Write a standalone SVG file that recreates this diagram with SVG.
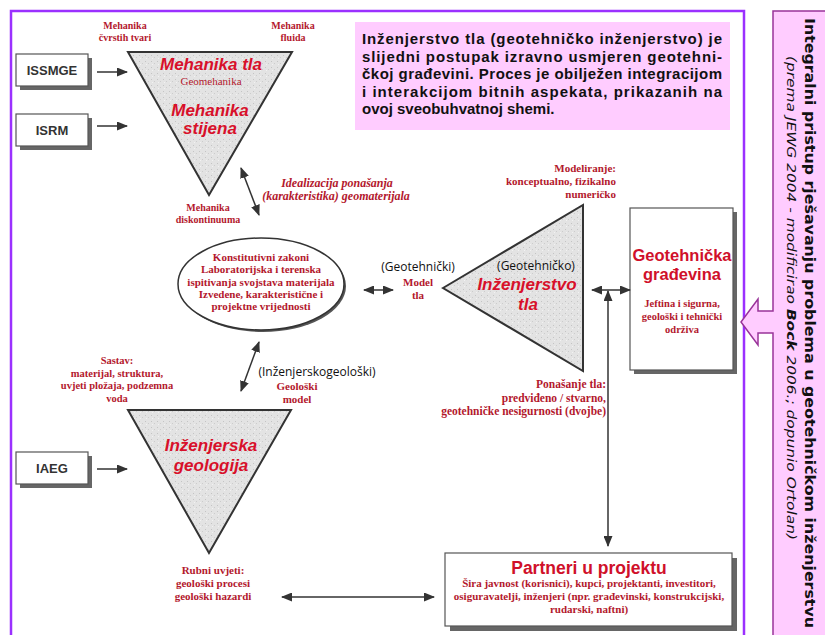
<svg xmlns="http://www.w3.org/2000/svg" width="825" height="635" viewBox="0 0 825 635">
<style>
.rs{font-family:"Liberation Serif",serif;font-weight:bold;fill:#b3182d;text-anchor:middle}
.rsi{font-family:"Liberation Serif",serif;font-weight:bold;font-style:italic;fill:#b3182d;text-anchor:middle;font-size:12px}
.big{font-family:"Liberation Sans",Arial,sans-serif;font-weight:bold;font-style:italic;fill:#d8102a;text-anchor:middle;font-size:17px}
.bigb{font-family:"Liberation Sans",Arial,sans-serif;font-weight:bold;fill:#d0102a;text-anchor:middle}
.blk{font-family:"Open Sans",sans-serif;fill:#111;text-anchor:middle;font-size:12px}
.org{font-family:"Liberation Sans",Arial,sans-serif;font-weight:bold;fill:#333;text-anchor:middle;font-size:13px}
.box{fill:#fff;stroke:#555;stroke-width:1.2}
.shd{fill:#666}
.tri{fill:url(#stip);stroke:#333;stroke-width:2}
.con{stroke:#333;stroke-width:1.5;fill:none}
.intro{font-family:"Liberation Sans",Arial,sans-serif;font-weight:bold;font-size:15px;fill:#111}
</style>
<defs>
<pattern id="stip" width="6" height="6" patternUnits="userSpaceOnUse">
<rect width="6" height="6" fill="#e3e3e3"/>
<rect x="1" y="1" width="1" height="1" fill="#c4c4c4"/>
<rect x="4" y="3" width="1" height="1" fill="#cccccc"/>
<rect x="2" y="4" width="1" height="1" fill="#f2f2f2"/>
</pattern>
<marker id="ah" markerWidth="11" markerHeight="9" refX="10" refY="4.5" orient="auto-start-reverse" markerUnits="userSpaceOnUse">
<path d="M0,0 L11,4.5 L0,9 Z" fill="#333"/>
</marker>
</defs>
<rect width="825" height="635" fill="#fff"/>

<!-- main frame -->
<rect x="11" y="11" width="733" height="640" fill="none" stroke="#9b30ff" stroke-width="2.5"/>

<!-- right side panel with arrow -->
<g id="side-panel">
<path d="M773,11 H830 V640 H773 V333 H758 V345 L741,322 L758,299 V311 H773 Z" fill="#ffccff" stroke="#993399" stroke-width="1.5"/>
<text transform="translate(805,18) rotate(90)" font-family="DejaVu Sans,sans-serif" font-size="14" font-weight="bold" fill="#111" textLength="610" lengthAdjust="spacingAndGlyphs">Integralni pristup rješavanju problema u geotehničkom inženjerstvu</text>
<text transform="translate(787,56) rotate(90)" font-family="DejaVu Sans,sans-serif" font-size="12" font-style="italic" fill="#111" textLength="484" lengthAdjust="spacingAndGlyphs">(prema JEWG 2004 - modificirao <tspan font-weight="bold">Bock</tspan> 2006.; dopunio Ortolan)</text>
</g>

<!-- intro text box -->
<g id="intro">
<rect x="355" y="22" width="375" height="108" fill="#ffccff"/>
<text class="intro" x="362" y="44" textLength="360">Inženjerstvo tla (geotehničko inženjerstvo) je</text>
<text class="intro" x="362" y="61.5" textLength="360">slijedni postupak izravno usmjeren  geotehni-</text>
<text class="intro" x="362" y="79" textLength="360">čkoj građevini. Proces je obilježen integracijom</text>
<text class="intro" x="362" y="96.5" textLength="360">i interakcijom bitnih aspekata, prikazanih na</text>
<text class="intro" x="362" y="114">ovoj sveobuhvatnoj shemi.</text>
</g>

<!-- organisation boxes -->
<g id="issmge">
<rect class="shd" x="20" y="58" width="72" height="32"/>
<rect class="box" x="16" y="54" width="72" height="32"/>
<text class="org" x="52" y="75">ISSMGE</text>
</g>
<g id="isrm">
<rect class="shd" x="20" y="118" width="72" height="32"/>
<rect class="box" x="16" y="114" width="72" height="32"/>
<text class="org" x="52" y="135">ISRM</text>
</g>
<g id="iaeg">
<rect class="shd" x="20" y="456" width="72" height="32"/>
<rect class="box" x="16" y="452" width="72" height="32"/>
<text class="org" x="52" y="473">IAEG</text>
</g>

<!-- top triangle -->
<g id="mehanika">
<polygon class="tri" points="128,52 292,52 209,195"/>
<text class="big" x="211" y="70">Mehanika tla</text>
<text class="rs" x="211" y="85" font-size="11" style="font-weight:normal">Geomehanika</text>
<text class="big" x="210" y="116">Mehanika</text>
<text class="big" x="210" y="134">stijena</text>
<text class="rs" x="125" y="29" font-size="10">Mehanika</text>
<text class="rs" x="125" y="41" font-size="10">čvrstih tvari</text>
<text class="rs" x="293" y="29" font-size="10">Mehanika</text>
<text class="rs" x="293" y="41" font-size="10">fluida</text>
<text class="rs" x="208" y="211" font-size="10">Mehanika</text>
<text class="rs" x="208" y="223" font-size="10">diskontinuuma</text>
</g>

<g id="idealizacija">
<text class="rsi" x="337" y="187">Idealizacija ponašanja</text>
<text class="rsi" x="336" y="200">(karakteristika) geomaterijala</text>
</g>

<!-- ellipse -->
<g id="konstitutivni">
<ellipse cx="263" cy="286" rx="83" ry="46" fill="#555"/>
<ellipse cx="261" cy="284" rx="83" ry="46" fill="#fff" stroke="#333" stroke-width="1.5"/>
<text class="rs" x="261" y="261" font-size="11">Konstitutivni zakoni</text>
<text class="rs" x="261" y="273" font-size="11">Laboratorijska i terenska</text>
<text class="rs" x="261" y="286" font-size="11">ispitivanja svojstava materijala</text>
<text class="rs" x="261" y="298" font-size="11">Izvedene, karakteristične i</text>
<text class="rs" x="261" y="310" font-size="11">projektne vrijednosti</text>
</g>

<g id="model-tla">
<text class="blk" x="418" y="271">(Geotehnički)</text>
<text class="rs" x="418" y="286" font-size="11">Model</text>
<text class="rs" x="418" y="299" font-size="11">tla</text>
</g>

<!-- middle triangle -->
<g id="inzenjerstvo-tla">
<polygon class="tri" points="443,288 583,205 583,371"/>
<text class="blk" x="536" y="270">(Geotehničko)</text>
<text class="big" x="527" y="290">Inženjerstvo</text>
<text class="big" x="528" y="310">tla</text>
</g>

<g id="modeliranje">
<text class="rs" x="616" y="172" font-size="11" style="text-anchor:end">Modeliranje:</text>
<text class="rs" x="616" y="185" font-size="11" style="text-anchor:end">konceptualno, fizikalno</text>
<text class="rs" x="616" y="198" font-size="11" style="text-anchor:end">numeričko</text>
</g>

<g id="ponasanje">
<text class="rs" x="606" y="388" font-size="11.5" style="text-anchor:end">Ponašanje tla:</text>
<text class="rs" x="606" y="402" font-size="11.5" style="text-anchor:end">predviđeno / stvarno,</text>
<text class="rs" x="606" y="415" font-size="11.5" style="text-anchor:end">geotehničke nesigurnosti (dvojbe)</text>
</g>

<!-- geotechnical structure box -->
<g id="gradevina">
<rect class="shd" x="634" y="212" width="103" height="162"/>
<rect class="box" x="630" y="208" width="103" height="162"/>
<text class="bigb" x="682" y="261" font-size="16.5">Geotehnička</text>
<text class="bigb" x="682" y="280" font-size="16.5">građevina</text>
<text class="rs" x="682" y="307" font-size="10.5">Jeftina i sigurna,</text>
<text class="rs" x="682" y="320" font-size="10.5">geološki i tehnički</text>
<text class="rs" x="682" y="333" font-size="10.5">održiva</text>
</g>

<g id="geoloski-model">
<text class="blk" x="317" y="376">(Inženjerskogeološki)</text>
<text class="rs" x="297" y="390" font-size="11">Geološki</text>
<text class="rs" x="297" y="403" font-size="11">model</text>
</g>

<g id="sastav">
<text class="rs" x="117" y="364" font-size="10.5">Sastav:</text>
<text class="rs" x="117" y="377" font-size="10.5">materijal, struktura,</text>
<text class="rs" x="117" y="389" font-size="10.5">uvjeti pložaja, podzemna</text>
<text class="rs" x="117" y="402" font-size="10.5">voda</text>
</g>

<!-- bottom triangle -->
<g id="inzenjerska-geologija">
<polygon class="tri" points="128,410 291,410 209,553"/>
<text class="big" x="211" y="451">Inženjerska</text>
<text class="big" x="211" y="471">geologija</text>
</g>

<g id="rubni-uvjeti">
<text class="rs" x="213" y="574" font-size="11">Rubni uvjeti:</text>
<text class="rs" x="213" y="587" font-size="11">geološki procesi</text>
<text class="rs" x="213" y="600" font-size="11">geološki hazardi</text>
</g>

<!-- partners box -->
<g id="partneri">
<rect class="shd" x="450" y="558" width="287" height="73"/>
<rect class="box" x="445" y="553" width="287" height="73"/>
<text class="bigb" x="589" y="574" font-size="17.5">Partneri u projektu</text>
<text class="rs" x="589" y="587" font-size="11">Šira javnost (korisnici), kupci, projektanti, investitori,</text>
<text class="rs" x="589" y="600" font-size="11">osiguravatelji, inženjeri (npr. građevinski, konstrukcijski,</text>
<text class="rs" x="589" y="613" font-size="11">rudarski, naftni)</text>
</g>

<!-- connectors -->
<g id="connectors">
<line class="con" x1="97" y1="72" x2="127" y2="72" marker-end="url(#ah)"/>
<line class="con" x1="97" y1="126" x2="127" y2="126" marker-end="url(#ah)"/>
<line class="con" x1="97" y1="469" x2="127" y2="469" marker-end="url(#ah)"/>
<line class="con" x1="241" y1="168" x2="259" y2="215" marker-start="url(#ah)" marker-end="url(#ah)"/>
<line class="con" x1="364" y1="290" x2="393" y2="290" marker-start="url(#ah)" marker-end="url(#ah)"/>
<line class="con" x1="259" y1="342" x2="241" y2="391" marker-start="url(#ah)" marker-end="url(#ah)"/>
<line class="con" x1="592" y1="290" x2="630" y2="290" marker-start="url(#ah)" marker-end="url(#ah)"/>
<line class="con" x1="608" y1="291" x2="608" y2="546" marker-start="url(#ah)" marker-end="url(#ah)"/>
<line class="con" x1="282" y1="597" x2="434" y2="597" marker-start="url(#ah)" marker-end="url(#ah)"/>
</g>
</svg>
